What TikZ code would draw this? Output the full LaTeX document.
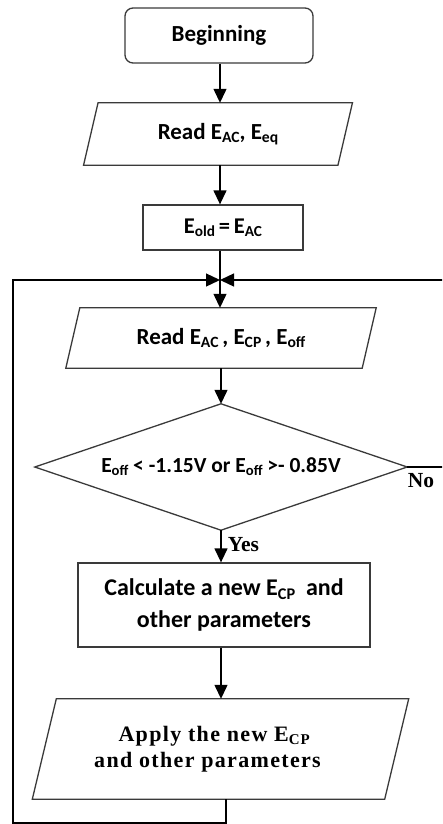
\documentclass[tikz,border=0pt]{standalone}
\usepackage{fontspec}
\setmainfont{Carlito}
\newfontfamily\timesfont{Liberation Serif}
\newfontfamily\timesspaced{Liberation Serif}[LetterSpace=6]
\usetikzlibrary{arrows.meta,calc}

% lowered, reduced subscript in the running font
\newcommand\lsub[1]{\raisebox{-0.3ex}{\scalebox{0.68}{#1}}}

% outline of a data (input/output) block around a named node
\newcommand\ioframe[2]{%
  \draw[boxline] ([xshift=#2]#1.north west) -- ([xshift=#2]#1.north east)
    -- ([xshift=-#2]#1.south east) -- ([xshift=-#2]#1.south west) -- cycle;}

% outline of a decision block: the side midpoints of its node are the corners
\newcommand\decframe[1]{%
  \draw[boxline] (#1.north) -- (#1.east) -- (#1.south) -- (#1.west) -- cycle;}

\definecolor{boxgray}{HTML}{3A3A3A}

\begin{document}
\begin{tikzpicture}[x=1pt,y=-1pt,
  boxline/.style={draw=boxgray,line width=1.3pt},
  flow/.style={draw=black,line width=1.3pt},
  arrow/.style={flow,-{Triangle[length=14pt,width=13pt]}},
  txt/.style={font=\bfseries\fontsize{#1}{#1}\selectfont},
  startbox/.style={boxline,rectangle,rounded corners=8pt,inner sep=0pt,
    minimum width=188pt,minimum height=55pt,txt=23},
  procbox/.style={boxline,rectangle,inner sep=0pt},
  iobox/.style={rectangle,inner sep=0pt},
  decision/.style={rectangle,inner sep=0pt,
    minimum width=372pt,minimum height=126pt,txt=21.5},
  branch/.style={font=\timesfont\bfseries\fontsize{21.5}{21.5}\selectfont}]

\useasboundingbox (0,0) rectangle (442,824);
\clip (0,0) rectangle (442,824);

% blocks
\node[startbox] (begin) at (219,35.5) {Beginning};

\node[iobox,minimum width=254pt,minimum height=62pt,txt=23] (read1) at (218,134)
  {Read E\lsub{AC}, E\lsub{eq}};
\ioframe{read1}{7.25pt}

\node[procbox,minimum width=160pt,minimum height=45pt,txt=22.5] (eold) at (223,227.5)
  {E\lsub{old}\,=\,E\lsub{AC}};

\node[iobox,minimum width=296pt,minimum height=60pt,txt=23] (read2) at (221,338)
  {Read E\lsub{AC}\,, E\lsub{CP}\,, E\lsub{off}};
\ioframe{read2}{7pt}

\node[decision] (dec) at (221,467)
  {E\lsub{off} < -1.15V or E\lsub{off} >- 0.85V};
\decframe{dec}

\node[procbox,minimum width=292pt,minimum height=84pt,align=center,
  font=\bfseries\fontsize{24}{32}\selectfont] (calc) at (224,605)
  {Calculate a new E\lsub{CP}~ and\\other parameters};

\node[iobox,minimum width=352pt,minimum height=100pt,
  font=\timesspaced\bfseries\fontsize{22}{26}\selectfont] (apply) at (220.5,749)
  {\begin{tabular}{@{}r@{}}Apply the new E\lsub{CP}\hspace*{11pt}\\and other parameters\end{tabular}\hspace*{26pt}};
\ioframe{apply}{12pt}

% junction points of the loop
\coordinate (junc) at (220,280);
\coordinate (redge) at (446,0);
\coordinate (loopstart) at (226,799);
\coordinate (loopcorner) at (226,823);
\coordinate (lefttrack) at (13,0);

% connectors
\draw[arrow] (begin.south -| junc) -- (junc |- read1.north);
\draw[arrow] (read1.south -| junc) -- (junc |- eold.north);
\draw[flow] (junc |- eold.south) -- (junc);
\draw[arrow] (junc) -- (junc |- read2.north);
\draw[arrow] (read2.south) -- (dec.north);
\draw[arrow] (dec.south) -- node[branch,right=3pt,pos=0.45] {Yes} (dec.south |- calc.north);
\draw[arrow] (calc.south -| dec.south) -- (apply.north -| dec.south);
\draw[arrow] (dec.east) -- (redge |- dec.east) -- (redge |- junc) -- (junc);
\node[branch] (nolabel) at (421,481) {No};
\draw[arrow] (loopstart) -- (loopcorner) -- (lefttrack |- loopcorner) -- (lefttrack |- junc) -- (junc);

\end{tikzpicture}
\end{document}
